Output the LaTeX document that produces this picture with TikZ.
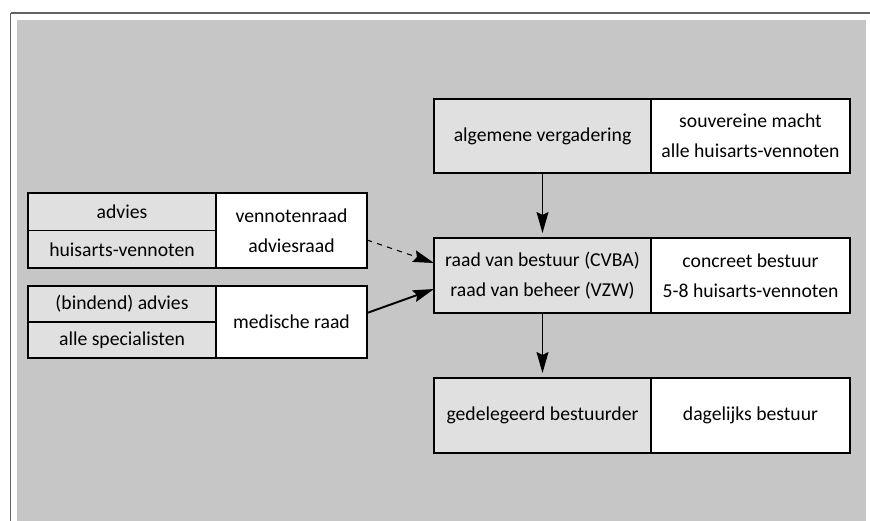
\documentclass[tikz,border=0pt]{standalone}
\usepackage{fontspec}
\setmainfont{Carlito}
\usepackage{tikz}
\usetikzlibrary{arrows.meta,positioning}
\definecolor{panelgray}{RGB}{198,198,198}
\definecolor{cellgray}{RGB}{224,224,224}
\definecolor{framegray}{RGB}{100,100,100}

\begin{document}
\begin{tikzpicture}[
    cell/.style={draw, line width=0.6pt, outer sep=0pt, inner sep=0pt, align=center,
                 font=\fontsize{11.2}{17}\selectfont},
    keycell/.style={cell, fill=cellgray},
    infocell/.style={cell, fill=white},
    arrow/.style={-{Stealth[length=0.42cm,width=0.24cm,inset=0.06cm]}, line width=0.6pt},
]
\useasboundingbox (0,0) rectangle (17.4,-10.42);

% ─────────────────────────────────────────
% Frame and background
% ─────────────────────────────────────────
\fill[panelgray] (0.34,-0.40) rectangle (17.32,-10.42);
\draw[framegray, line width=0.6pt] (0.21,-0.26) -- (17.4,-0.26);
\draw[framegray, line width=1.1pt] (0.21,-0.26) -- (0.21,-10.42);

% ─────────────────────────────────────────
% Right column: bestuursorganen
% ─────────────────────────────────────────
\node[keycell, minimum width=4.34cm, minimum height=1.48cm] (alg) at (10.85,-2.72)
    {algemene vergadering};
\node[infocell, minimum width=3.98cm, minimum height=1.48cm, right=0pt of alg] (algInfo)
    {souvereine macht\\alle huisarts-vennoten};

\node[keycell, minimum width=4.34cm, minimum height=1.5cm] (rvb) at (10.85,-5.51)
    {raad van bestuur (CVBA)\\raad van beheer (VZW)};
\node[infocell, minimum width=3.98cm, minimum height=1.5cm, right=0pt of rvb] (rvbInfo)
    {concreet bestuur\\5-8 huisarts-vennoten};

\node[keycell, minimum width=4.34cm, minimum height=1.5cm] (ged) at (10.85,-8.31)
    {gedelegeerd bestuurder};
\node[infocell, minimum width=3.98cm, minimum height=1.5cm, right=0pt of ged] (gedInfo)
    {dagelijks bestuur};

% ─────────────────────────────────────────
% Left column: adviserende raden
% ─────────────────────────────────────────
\node[keycell, minimum width=3.76cm, minimum height=0.75cm] (venTop) at (2.44,-4.235) {advies};
\node[keycell, minimum width=3.76cm, minimum height=0.75cm, below=0pt of venTop] (venBot)
    {huisarts-vennoten};
\node[infocell, minimum width=3.02cm, minimum height=1.5cm, anchor=north west] (ven)
    at (venTop.north east) {vennotenraad\\adviesraad};

\node[keycell, minimum width=3.76cm, minimum height=0.72cm] (medTop) at (2.44,-6.08)
    {(bindend) advies};
\node[keycell, minimum width=3.76cm, minimum height=0.72cm, below=0pt of medTop] (medBot)
    {alle specialisten};
\node[infocell, minimum width=3.02cm, minimum height=1.44cm, anchor=north west] (med)
    at (medTop.north east) {medische raad};

% Arrows
\draw[arrow, shorten >=0.1cm] (alg.south) -- (rvb.north);
\draw[arrow, shorten >=0.1cm] (rvb.south) -- (ged.north);
\draw[arrow, dashed] ([yshift=-0.19cm]ven.east) -- ([yshift=0.25cm]rvb.west);
\draw[arrow, line width=1.1pt] ([yshift=0.18cm]med.east) -- ([yshift=-0.27cm]rvb.west);

\end{tikzpicture}
\end{document}
